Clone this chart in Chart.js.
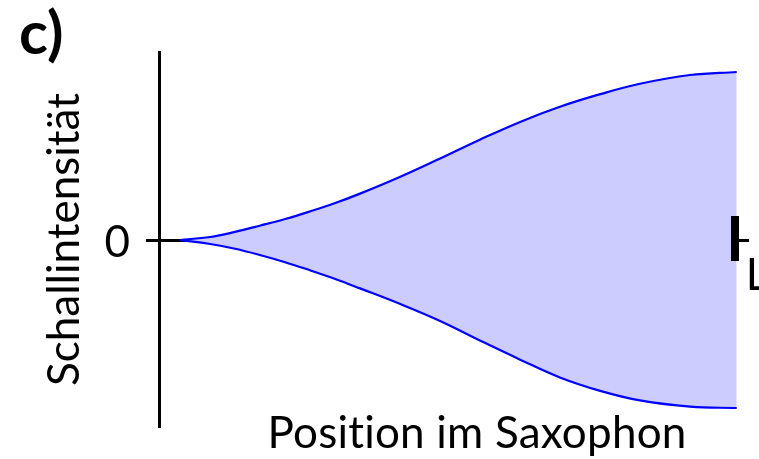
<!DOCTYPE html>
<html>
<head>
<meta charset="utf-8">
<title>Schallintensität im Saxophon</title>
<script src="https://cdn.jsdelivr.net/npm/chart.js"></script>
<style>
    html, body { margin: 0; padding: 0; background: #ffffff; }
    #chart-wrap { position: relative; width: 759px; height: 459px; }
</style>
</head>
<body>
<div id="chart-wrap">
    <canvas id="intensityChart"></canvas>
</div>
<script>
// Position along the saxophone (L = 1) and the read-off envelope values
const positions = [0.036, 0.089, 0.132, 0.175, 0.219, 0.262, 0.306, 0.349, 0.418, 0.488, 0.557, 0.627, 0.696, 0.766, 0.835, 0.922, 1.003];
const upperIntensity = [0, 0.018, 0.048, 0.085, 0.125, 0.170, 0.220, 0.276, 0.375, 0.485, 0.597, 0.703, 0.793, 0.868, 0.930, 0.982, 1.0];
const lowerIntensity = [0, -0.024, -0.052, -0.089, -0.132, -0.180, -0.232, -0.288, -0.380, -0.482, -0.598, -0.712, -0.818, -0.898, -0.955, -0.992, -1.0];

// Axis ticks
const xTickValues = [1];
const xTickLabels = ['L'];
const yTickValues = [0];
const yTickLabels = ['0'];

const panelLabel = 'c)';
const xAxisTitle = 'Position im Saxophon';
const yAxisTitle = 'Schallintensität';

function toPoints(xs, ys) {
    return xs.map(function(x, i) { return { x: x, y: ys[i] }; });
}

// Panel letter, x title and the thick tick at L
const sketchExtras = {
    id: 'sketchExtras',
    afterDraw: function(chart) {
        const ctx = chart.ctx;
        const xScale = chart.scales.x;
        const yScale = chart.scales.y;
        const area = chart.chartArea;
        ctx.save();

        // thick tick mark across the axis at L
        const tickX = xScale.getPixelForValue(xTickValues[0]);
        const zeroY = yScale.getPixelForValue(0);
        ctx.strokeStyle = '#000000';
        ctx.lineWidth = 8;
        ctx.beginPath();
        ctx.moveTo(tickX, zeroY - 24);
        ctx.lineTo(tickX, zeroY + 21);
        ctx.stroke();

        ctx.fillStyle = '#000000';
        ctx.textBaseline = 'alphabetic';

        // panel label
        ctx.font = 'bold 60px Lato';
        ctx.textAlign = 'left';
        ctx.fillText(panelLabel, 19, 54);

        // x axis title, below the plot (tiny spacing keeps "ti" from becoming a ligature)
        ctx.font = '44px Lato';
        ctx.letterSpacing = '0.2px';
        ctx.textAlign = 'center';
        ctx.fillText(xAxisTitle, area.left + (area.right - area.left) * 0.540, 448);

        ctx.restore();
    }
};

function initIntensityChart() {
    const ctx = document.getElementById('intensityChart').getContext('2d');
    new Chart(ctx, {
        type: 'line',
        data: {
            datasets: [{
                label: 'oben',
                data: toPoints(positions, upperIntensity),
                borderColor: '#0000ff',
                borderWidth: 2.2,
                backgroundColor: '#ccccff',
                fill: '+1',
                pointRadius: 0,
                tension: 0.4
            }, {
                label: 'unten',
                data: toPoints(positions, lowerIntensity),
                borderColor: '#0000ff',
                borderWidth: 2.2,
                backgroundColor: '#ccccff',
                fill: false,
                pointRadius: 0,
                tension: 0.4
            }]
        },
        options: {
            responsive: true,
            maintainAspectRatio: false,
            animation: false,
            layout: {
                padding: { left: 0, right: 11, top: 52, bottom: 32 }
            },
            plugins: {
                legend: { display: false },
                tooltip: { enabled: false },
                filler: { drawTime: 'beforeDatasetsDraw' }
            },
            scales: {
                x: {
                    type: 'linear',
                    position: { y: 0 },
                    min: 0,
                    max: 1.0226,
                    z: 1,
                    // the axis sits on y = 0, so it takes no room at the bottom
                    afterFit: function(scale) {
                        scale.height = 0;
                    },
                    grid: { display: true, drawOnChartArea: false, drawTicks: false },
                    border: { color: '#000000', width: 3 },
                    afterBuildTicks: function(scale) {
                        scale.ticks = xTickValues.map(function(v) { return { value: v }; });
                    },
                    ticks: {
                        color: '#000000',
                        font: { family: 'Lato', size: 44 },
                        padding: 9,
                        labelOffset: 22,
                        maxRotation: 0,
                        callback: function(value) {
                            const i = xTickValues.indexOf(value);
                            return i >= 0 ? xTickLabels[i] : '';
                        }
                    }
                },
                y: {
                    type: 'linear',
                    position: 'left',
                    min: -1.113,
                    max: 1.119,
                    z: 1,
                    // fixed axis width; the single "0" label sits mid-axis, so no end padding
                    afterFit: function(scale) {
                        scale.width = 159;
                        scale.paddingTop = 0;
                        scale.paddingBottom = 0;
                    },
                    afterBuildTicks: function(scale) {
                        scale.ticks = yTickValues.map(function(v) { return { value: v }; });
                    },
                    grid: {
                        display: true,
                        drawOnChartArea: false,
                        drawTicks: true,
                        tickLength: 13,
                        tickWidth: 3,
                        tickColor: '#000000'
                    },
                    border: { color: '#000000', width: 3 },
                    ticks: {
                        color: '#000000',
                        font: { family: 'Lato', size: 44 },
                        padding: 16,
                        labelOffset: 3,
                        callback: function(value) {
                            const i = yTickValues.indexOf(value);
                            return i >= 0 ? yTickLabels[i] : '';
                        }
                    },
                    title: {
                        display: true,
                        text: yAxisTitle,
                        color: '#000000',
                        font: { family: 'Lato', size: 44 },
                        padding: { top: 38, bottom: 0 }
                    }
                }
            }
        },
        plugins: [sketchExtras]
    });
}

initIntensityChart();
</script>
</body>
</html>
